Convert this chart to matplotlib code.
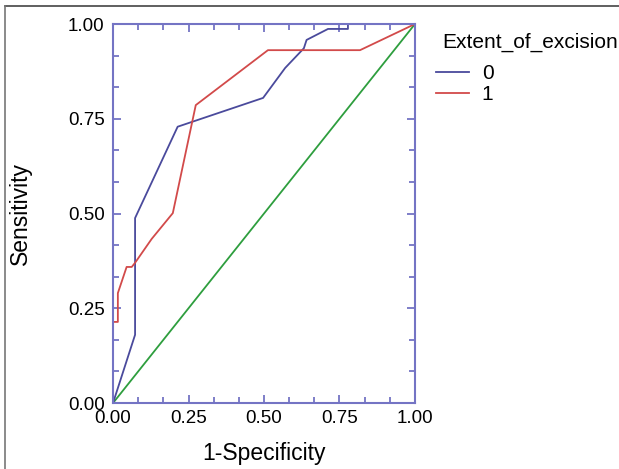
import matplotlib
matplotlib.use('Agg')
import matplotlib.pyplot as plt
from matplotlib.lines import Line2D
from matplotlib.ticker import MultipleLocator

plt.rcParams['font.family'] = ['Liberation Sans', 'DejaVu Sans']

# ROC points
fpr0 = [0.0, 0.073, 0.073, 0.214, 0.497, 0.57, 0.632, 0.641, 0.712, 0.778, 0.778, 1.0]
tpr0 = [0.0, 0.18, 0.488, 0.729, 0.805, 0.884, 0.936, 0.958, 0.987, 0.987, 1.0, 1.0]
fpr1 = [0.0, 0.0, 0.016, 0.016, 0.045, 0.062, 0.073, 0.128, 0.198, 0.274, 0.513, 0.818, 1.0]
tpr1 = [0.0, 0.214, 0.214, 0.29, 0.359, 0.359, 0.37, 0.433, 0.501, 0.786, 0.931, 0.931, 1.0]
labels = ['0', '1']
legend_title = 'Extent_of_excision'
ticks = [0.0, 0.25, 0.5, 0.75, 1.0]

spine_col = '#7474c4'
fig = plt.figure(figsize=(6.19, 4.69), dpi=100)
ax = fig.add_axes([0.1826, 0.1407, 0.4878, 0.8081])

ax.plot([0, 1], [0, 1], color='#2e9e3e', lw=1.3)
ax.plot(fpr0, tpr0, color='#4a4a9c', lw=1.3, label=labels[0])
ax.plot(fpr1, tpr1, color='#d24a4a', lw=1.3, label=labels[1])

ax.set_xlim(0, 1)
ax.set_ylim(0, 1)
ax.set_xticks(ticks)
ax.set_yticks(ticks)
ax.set_xticklabels(['%.2f' % t for t in ticks])
ax.set_yticklabels(['%.2f' % t for t in ticks])
ax.xaxis.set_minor_locator(MultipleLocator(1 / 12))
ax.yaxis.set_minor_locator(MultipleLocator(1 / 12))
ax.tick_params(which='both', direction='in', top=True, right=True,
               color=spine_col, width=1.3, labelsize=13.5)
ax.tick_params(axis='y', pad=6)
ax.tick_params(axis='x', pad=5)
ax.tick_params(which='major', length=6)
ax.tick_params(which='minor', length=4)
for s in ax.spines.values():
    s.set_color(spine_col)
    s.set_linewidth(1.5)

ax.set_xlabel('1-Specificity', fontsize=16.5)
ax.set_ylabel('Sensitivity', fontsize=16.5)
ax.xaxis.set_label_coords(0.5, -0.103)
ax.yaxis.set_label_coords(-0.27, 0.5)

# legend: title as its own text, entries below it
fig.text(442 / 619, 1 - 42 / 469, legend_title, fontsize=15, va='center', ha='left')
ax.legend(loc='upper left', bbox_to_anchor=(436 / 619, 1 - 64 / 469),
          bbox_transform=fig.transFigure, frameon=False, fontsize=15,
          borderpad=0, borderaxespad=0, handlelength=1.6,
          handletextpad=0.6, labelspacing=0.12)

# grey frame lines at top and left of the image
fig.add_artist(Line2D([0.008, 1.0], [0.987, 0.987], color='#444444', lw=1.2,
                      transform=fig.transFigure))
fig.add_artist(Line2D([0.008, 0.008], [0.0, 0.987], color='#777777', lw=1.2,
                      transform=fig.transFigure))

fig.savefig('out.png', dpi=100)
